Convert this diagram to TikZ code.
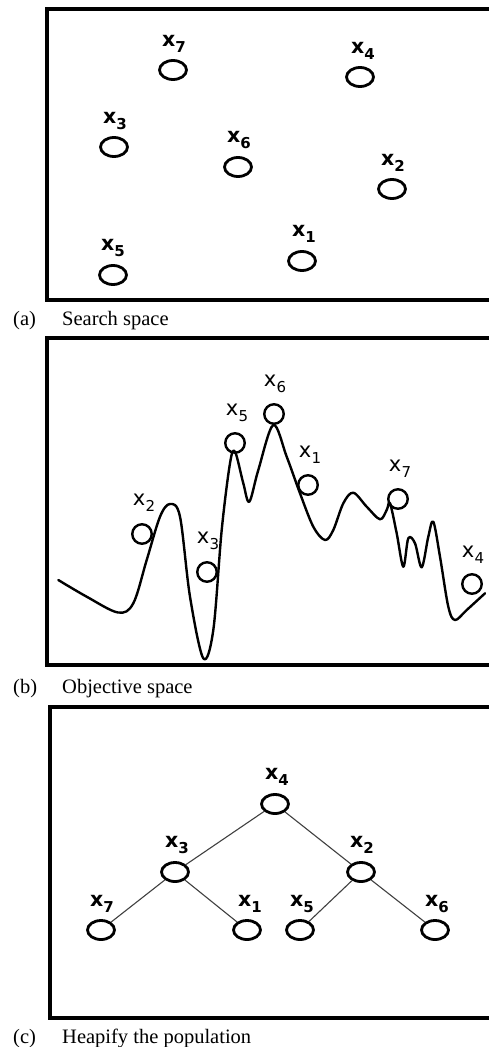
\documentclass[tikz,border=0pt]{standalone}
\usepackage{fontspec}
\setmainfont{Liberation Serif}
\newfontfamily\labfont{DejaVu Sans}
\usetikzlibrary{shapes.geometric}
\newcommand{\xsub}[1]{x\kern0.2pt\raisebox{-6pt}{\fontsize{15}{15}\selectfont #1}}
\tikzset{
  frame/.style={line width=4pt},
  pta/.style={ellipse, draw, line width=2.8pt, minimum width=27pt, minimum height=19pt, inner sep=0pt},
  ptb/.style={circle, draw, line width=2.4pt, minimum size=19.5pt, inner sep=0pt},
  laba/.style={font=\labfont\bfseries\fontsize{20.5}{20.5}\selectfont, inner sep=0pt},
  labb/.style={font=\labfont\fontsize{21}{21}\selectfont, inner sep=0pt},
  capt/.style={font=\fontsize{20.5}{22}\selectfont, anchor=base west, inner sep=0pt},
  edge/.style={line width=1.1pt, draw=black!75},
  curve/.style={line width=2.4pt, line join=round, line cap=round}
}
\begin{document}
\begin{tikzpicture}[x=1pt, y=-1pt]
\useasboundingbox (0,0) rectangle (488,1047);
% ---------- (a) ----------
\draw[frame] (492,9) -- (47,9) -- (47,300) -- (492,300);
\node[pta] (a7) at (173,70) {};
\node[pta] (a4) at (360,77) {};
\node[pta] (a3) at (114,147) {};
\node[pta] (a6) at (238,167) {};
\node[pta] (a2) at (392,189) {};
\node[pta] (a1) at (302,261) {};
\node[pta] (a5) at (113,275) {};
\node[laba] (la7) at (174,44) {\xsub{7}};
\node[laba] (la4) at (363,51) {\xsub{4}};
\node[laba] (la3) at (115,121) {\xsub{3}};
\node[laba] (la6) at (239,140) {\xsub{6}};
\node[laba] (la2) at (393,163) {\xsub{2}};
\node[laba] (la1) at (304,234) {\xsub{1}};
\node[laba] (la5) at (113,248) {\xsub{5}};
\node[capt] (ca1) at (13,325) {(a)};
\node[capt] (ca2) at (62,325) {Search space};
% ---------- (b) ----------
\draw[frame] (492,338) -- (47,338) -- (47,665) -- (492,665);
\draw[curve] plot[smooth, tension=0.55] coordinates {
(58.3,580) (86.7,596.7) (118,612.5) (133.3,603.3) (146.7,560) (160,516.7)
(170,504) (180,516.7) (190,596.7) (203.3,658.3) (213.3,630) (221.7,530)
(230,463.3) (235,451.7) (243.3,483.3) (249.3,501.7) (258.3,470) (273.3,425)
(286.7,456.7) (300,493.3) (313.3,526.7) (325,540) (333.3,530) (343.3,503.3)
(353.3,492.7) (366.7,506.7) (380,519.3) (386.7,510) (390,503.3) (396.7,533.3)
(403.3,566.7) (408.3,538.3) (415,543.3) (421.7,567.3) (428.3,536.7) (433.3,521.7)
(440,556.7) (448.3,606.7) (455,620) (466.7,610) (485,593.3)};
\node[ptb] (b2) at (142,534) {};
\node[ptb] (b3) at (207,572) {};
\node[ptb] (b5) at (235,443) {};
\node[ptb] (b6) at (274,414) {};
\node[ptb] (b1) at (308,485) {};
\node[ptb] (b7) at (398,499) {};
\node[ptb] (b4) at (472,584) {};
\node[labb] (lb2) at (144,503) {\xsub{2}};
\node[labb] (lb3) at (208,541) {\xsub{3}};
\node[labb] (lb5) at (237,413) {\xsub{5}};
\node[labb] (lb6) at (275,384) {\xsub{6}};
\node[labb] (lb1) at (310,455) {\xsub{1}};
\node[labb] (lb7) at (400,469) {\xsub{7}};
\node[labb] (lb4) at (473,555) {\xsub{4}};
\node[capt] (cb1) at (13,693) {(b)};
\node[capt] (cb2) at (62,693) {Objective space};
% ---------- (c) ----------
\draw[frame] (492,707) -- (49.5,707) -- (49.5,1017.5) -- (492,1017.5);
\node[pta] (c4) at (275,804) {};
\node[pta] (c3) at (175,872) {};
\node[pta] (c2) at (361,872) {};
\node[pta] (c7) at (101,930) {};
\node[pta] (c1) at (247,930) {};
\node[pta] (c5) at (300,930) {};
\node[pta] (c6) at (435,930) {};
\draw[edge] (c4) -- (c3);
\draw[edge] (c4) -- (c2);
\draw[edge] (c3) -- (c7);
\draw[edge] (c3) -- (c1);
\draw[edge] (c2) -- (c5);
\draw[edge] (c2) -- (c6);
\node[laba] (lc4) at (277,777) {\xsub{4}};
\node[laba] (lc3) at (177,845) {\xsub{3}};
\node[laba] (lc2) at (362,845) {\xsub{2}};
\node[laba] (lc7) at (102,904) {\xsub{7}};
\node[laba] (lc1) at (250,904) {\xsub{1}};
\node[laba] (lc5) at (302,904) {\xsub{5}};
\node[laba] (lc6) at (437,904) {\xsub{6}};
\node[capt] (cc1) at (13,1043) {(c)};
\node[capt] (cc2) at (62,1043) {Heapify the population};
\end{tikzpicture}
\end{document}
